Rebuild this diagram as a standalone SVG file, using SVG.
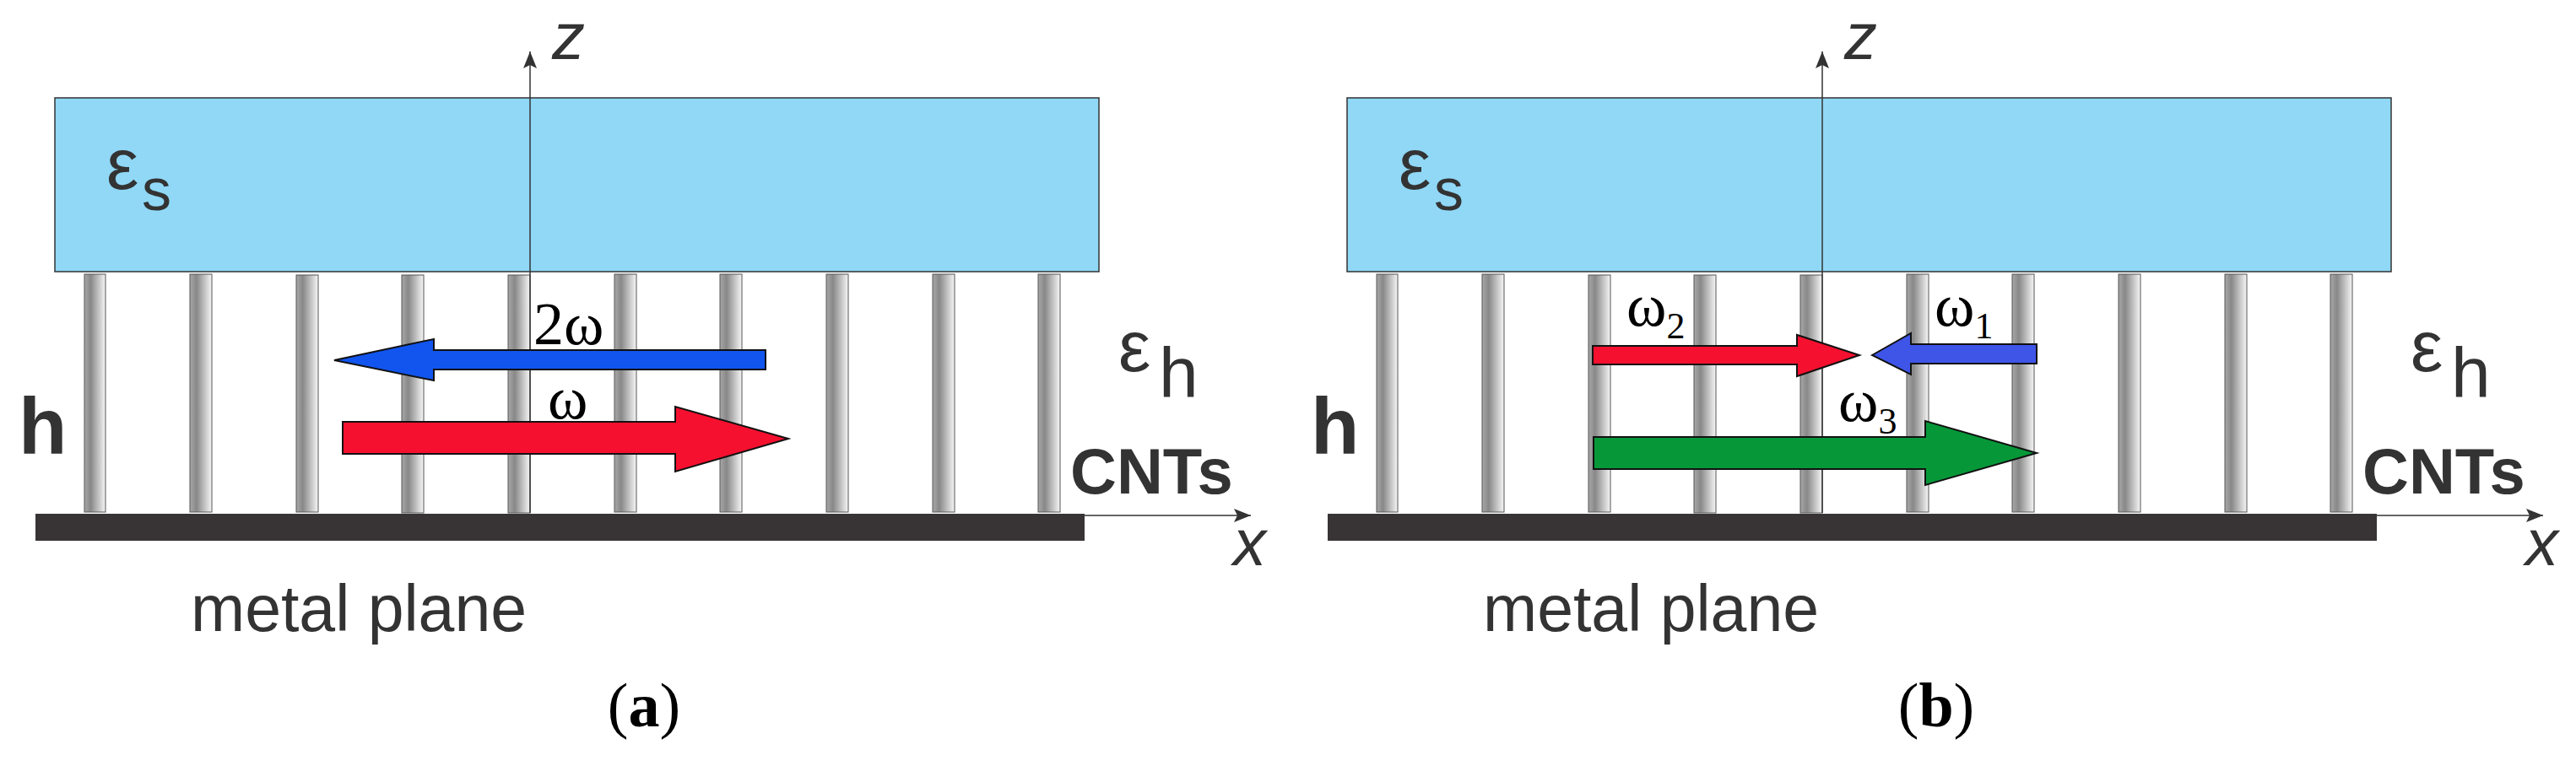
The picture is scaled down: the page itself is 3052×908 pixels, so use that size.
<svg xmlns="http://www.w3.org/2000/svg" width="3052" height="908" viewBox="0 0 3052 908">
<defs>
<linearGradient id="cnt" x1="0" x2="1" y1="0" y2="0">
<stop offset="0" stop-color="#a8a8a8"/><stop offset="0.3" stop-color="#888"/><stop offset="1" stop-color="#f6f6f6"/>
</linearGradient>
<marker id="ah" viewBox="0 0 10 10" refX="10" refY="5" markerWidth="20" markerHeight="20" markerUnits="userSpaceOnUse" orient="auto"><path d="M0,1 L10,5 L0,9 L2,5 Z" fill="#333"/></marker>
<g id="cnts">
<rect x="100" y="325" width="25" height="282"/><rect x="225" y="325" width="26" height="282"/><rect x="351" y="326" width="26" height="281"/><rect x="476" y="326" width="26" height="282"/><rect x="602" y="326" width="26" height="282"/><rect x="728" y="325" width="26" height="282"/><rect x="853" y="325" width="26" height="282"/><rect x="979" y="325" width="26" height="282"/><rect x="1105" y="325" width="26" height="282"/><rect x="1230" y="325" width="26" height="282"/>
</g>
</defs>
<style>
#cnts rect{fill:url(#cnt);stroke:#555;stroke-width:1}
.slab{fill:#90d8f6;stroke:#333;stroke-width:1.5}
.plane{fill:#383435}
.axis{stroke:#333;stroke-width:1.5;fill:none;marker-end:url(#ah)}
.sans{font-family:"Liberation Sans",Arial,sans-serif;fill:#333}
.ser{font-family:"Liberation Serif","Times New Roman",serif;fill:#000}
.arr{stroke:#111;stroke-width:2}
</style>
<rect width="3052" height="908" fill="#fff"/>
<g id="panel-a">
<rect id="slab-a" class="slab" x="65" y="116" width="1237" height="206"/>
<use href="#cnts"/>
<rect id="plane-a" class="plane" x="42" y="609" width="1243" height="32"/>
<g id="connectors-a">
<line class="axis" x1="628" y1="608" x2="628" y2="61"/>
<line class="axis" x1="1285" y1="611" x2="1482" y2="611"/>
</g>
<text class="sans" x="654" y="70" font-size="78" font-style="italic">z</text>
<text class="sans" x="1461" y="670" font-size="78" font-style="italic">x</text>
<text class="sans" x="126" y="224" font-size="86">ε</text><text class="sans" x="168" y="249" font-size="70">s</text>
<text class="sans" x="1325" y="440" font-size="86">ε</text><text class="sans" x="1373" y="471" font-size="84">h</text>
<text class="sans" x="22" y="538" font-size="94" font-weight="bold">h</text>
<text class="sans" x="1268" y="585" font-size="76" font-weight="bold">CNTs</text>
<text class="sans" x="226" y="748" font-size="77">metal plane</text>
<text class="ser" x="763" y="861" font-size="74" text-anchor="middle">(<tspan font-weight="bold">a</tspan>)</text>
<polygon id="arrow-2w" class="arr" fill="#1155ee" points="396,427 514,402 514,415 907,415 907,438 514,438 514,451"/>
<polygon id="arrow-w" class="arr" fill="#f5102f" points="406,500 800,500 800,482 934,520 800,559 800,538 406,538"/>
<text class="ser" x="632" y="408" font-size="72">2ω</text>
<text class="ser" x="649" y="496" font-size="72">ω</text>
</g>
<g id="panel-b">
<rect id="slab-b" class="slab" x="1596" y="116" width="1237" height="206"/>
<use href="#cnts" x="1531"/>
<rect id="plane-b" class="plane" x="1573" y="609" width="1243" height="32"/>
<g id="connectors-b">
<line class="axis" x1="2159" y1="608" x2="2159" y2="61"/>
<line class="axis" x1="2816" y1="611" x2="3013" y2="611"/>
</g>
<text class="sans" x="2185" y="70" font-size="78" font-style="italic">z</text>
<text class="sans" x="2992" y="670" font-size="78" font-style="italic">x</text>
<text class="sans" x="1657" y="224" font-size="86">ε</text><text class="sans" x="1699" y="249" font-size="70">s</text>
<text class="sans" x="2856" y="440" font-size="86">ε</text><text class="sans" x="2904" y="471" font-size="84">h</text>
<text class="sans" x="1553" y="538" font-size="94" font-weight="bold">h</text>
<text class="sans" x="2799" y="585" font-size="76" font-weight="bold">CNTs</text>
<text class="sans" x="1757" y="748" font-size="77">metal plane</text>
<text class="ser" x="2294" y="861" font-size="74" text-anchor="middle">(<tspan font-weight="bold">b</tspan>)</text>
<polygon id="arrow-w2" class="arr" fill="#f5102f" points="1887,410 2129,410 2129,397 2203,421 2129,446 2129,432 1887,432"/>
<polygon id="arrow-w1" class="arr" fill="#3f55e8" points="2218,421 2264,395 2264,408 2413,408 2413,431 2264,431 2264,444"/>
<polygon id="arrow-w3" class="arr" fill="#069838" points="1888,518 2281,518 2281,499 2413,537 2281,575 2281,556 1888,556"/>
<text class="ser" x="1927" y="386" font-size="72">ω<tspan font-size="44" dy="15">2</tspan></text>
<text class="ser" x="2292" y="386" font-size="72">ω<tspan font-size="44" dy="15">1</tspan></text>
<text class="ser" x="2178" y="499" font-size="72">ω<tspan font-size="44" dy="15">3</tspan></text>
</g>
</svg>
